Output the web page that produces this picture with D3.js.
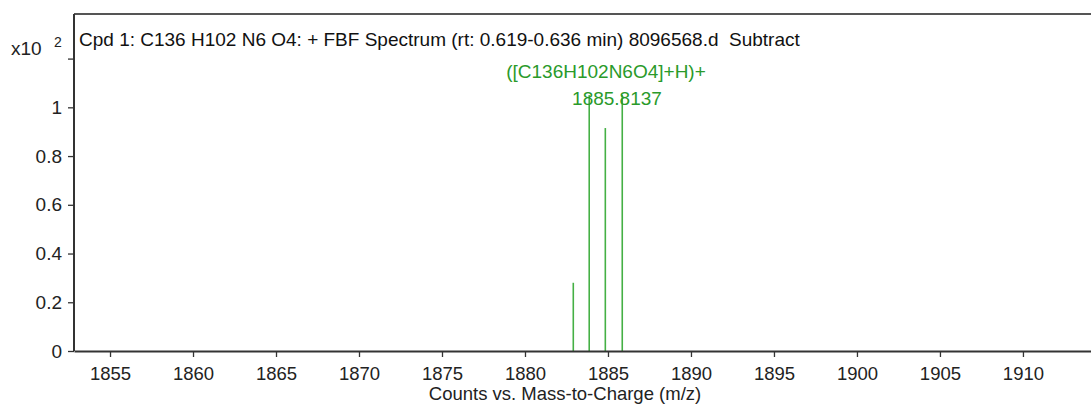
<!DOCTYPE html>
<html><head><meta charset="utf-8">
<script src="https://cdn.jsdelivr.net/npm/d3@7"></script>
<style>body{margin:0;background:#fff}svg{display:block;font-family:"Liberation Sans",Arial,sans-serif}</style>
</head><body><svg id="c" width="1091" height="405"></svg>
<script>
const mz = [1882.91, 1883.87, 1884.84, 1885.86];
const counts = [0.28, 1.05, 0.915, 1.05];
const yTicks = [0, 0.2, 0.4, 0.6, 0.8, 1, 1.2];
const yTickLabels = ["0", "0.2", "0.4", "0.6", "0.8", "1", ""];
const xTicks = [1855, 1860, 1865, 1870, 1875, 1880, 1885, 1890, 1895, 1900, 1905, 1910];
const title = "Cpd 1: C136 H102 N6 O4: + FBF Spectrum (rt: 0.619-0.636 min) 8096568.d\u00a0\u00a0Subtract";
const peakLabel = ["([C136H102N6O4]+H)+", "1885.8137"];
const xLabel = "Counts vs. Mass-to-Charge (m/z)";

const svg = d3.select("#c");
const L = 74, R = 1091, T = 14, B = 351;
const x = d3.scaleLinear().domain([1852.83, 1914.1]).range([L, R]);
const y = d3.scaleLinear().domain([0, 1.383]).range([B, T]);
const green = "#45b045", axisCol = "#333";

// peaks
svg.append("g").selectAll("line").data(mz).join("line")
  .attr("x1", d => x(d)).attr("x2", d => x(d))
  .attr("y1", y(0)).attr("y2", (d, i) => y(counts[i]))
  .attr("stroke", green).attr("stroke-width", 1.6);

// top border
svg.append("line").attr("x1", L).attr("x2", R).attr("y1", T).attr("y2", T)
  .attr("stroke", "#555").attr("stroke-width", 2);

// axes
const xa = svg.append("g").attr("transform", `translate(0,${B})`)
  .call(d3.axisBottom(x).tickValues(xTicks).tickSize(6).tickSizeOuter(0).tickPadding(10).tickFormat(d3.format("d")));
const ya = svg.append("g").attr("transform", `translate(${L},0)`)
  .call(d3.axisLeft(y).tickValues(yTicks).tickSize(6).tickSizeOuter(0).tickPadding(6).tickFormat((d, i) => yTickLabels[i]));
[xa, ya].forEach(a => {
  a.select(".domain").attr("stroke", axisCol).attr("stroke-width", 2);
  a.selectAll(".tick line").attr("stroke", axisCol).attr("stroke-width", 1.3);
  a.selectAll("text").attr("font-size", 18.5).attr("fill", "#222").attr("font-family", "Liberation Sans, Arial, sans-serif");
});
ya.selectAll("text").attr("font-size", 19);
ya.select(".domain").attr("d", `M0,${T}V${B}`);

// title
svg.append("text").attr("x", 79).attr("y", 46).attr("font-size", 19).attr("fill", "#111").text(title);
// multiplier
svg.append("text").attr("x", 11).attr("y", 55).attr("font-size", 19).attr("fill", "#222").text("x10");
svg.append("text").attr("x", 54).attr("y", 47).attr("font-size", 14).attr("fill", "#222").text("2");

// peak label
const lab = svg.append("text").attr("fill", "#2a9a2a").attr("font-size", 19).attr("text-anchor", "middle");
lab.append("tspan").attr("x", 606).attr("y", 78).text(peakLabel[0]);
lab.append("tspan").attr("x", 617).attr("y", 105).text(peakLabel[1]);

// x axis label
svg.append("text").attr("x", 565).attr("y", 400).attr("text-anchor", "middle").attr("font-size", 18.5).attr("fill", "#222").text(xLabel);
</script></body></html>
